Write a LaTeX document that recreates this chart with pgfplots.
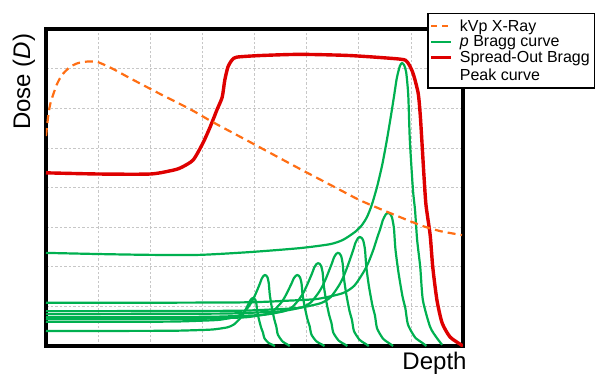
\documentclass[border=0pt]{standalone}
\usepackage{pgfplots}
\pgfplotsset{compat=1.18}
\usepackage{fontspec}
\setmainfont{Liberation Sans}
\definecolor{bgreen}{RGB}{0,176,80}
\definecolor{sred}{RGB}{222,0,0}
\definecolor{xorange}{RGB}{255,110,20}
\begin{document}
\begin{tikzpicture}
\path[use as bounding box] (-46bp,-28bp) rectangle (551bp,346bp);
\begin{axis}[
  at={(0,0)}, anchor=south west,
  scale only axis, width=417bp, height=317bp,
  xmin=0, xmax=8, ymin=0, ymax=8,
  xtick={1,...,7}, ytick={1,...,7},
  xticklabels={,,,,,,,}, yticklabels={,,,,,,,},
  major tick length=0pt,
  grid=major,
  grid style={dash pattern=on 2.5bp off 2bp, color=black!22, line width=0.7bp},
  axis line style={line width=3.5bp},
  xlabel={Depth}, ylabel={Dose (\textit{D})},
  label style={font=\fontsize{24bp}{28bp}\selectfont, inner sep=0pt},
  xlabel style={at={(axis description cs:0.9317,0)}, anchor=north, yshift=-6bp},
  ylabel style={at={(axis description cs:-0.0528,0.833)}, anchor=center, rotate=0},
  legend style={at={(axis description cs:0.9137,1.0505)}, anchor=north west,
    draw=black, line width=1.5bp, fill=white,
    font=\fontsize{16bp}{17.8bp}\selectfont,
    inner xsep=2bp, inner ysep=4.5bp,
    nodes={inner xsep=2.5bp, inner ysep=1.5bp},
    cells={anchor=base west, align=left}},
  legend image code/.code={\path (0bp,0bp) (25bp,0bp); \draw[#1] (0bp,5bp) -- (20bp,5bp);},
  every axis plot/.append style={smooth, tension=0.4},
]
\addlegendimage{xorange, line width=2.2bp, dash pattern=on 6bp off 5bp}
\addlegendimage{bgreen, line width=2.3bp}
\addlegendimage{legend image code/.code={\path (0bp,0bp) (25bp,0bp); \draw[sred, line width=3bp] (0bp,22.8bp) -- (20bp,22.8bp);}}

% small Bragg curves
\addplot[bgreen, line width=2.2bp, forget plot] coordinates {
(0,0.38)(1,0.38)(2.375,0.384)(2.892,0.400)(3.20,0.417)(3.475,0.469)(3.60,0.539)(3.706,0.669)(3.761,0.762)(3.81,0.872)(3.854,0.982)(3.8875,1.068)(3.915,1.144)(3.948,1.197)(3.97,1.21)
(3.992,1.202)(4.014,1.170)(4.036,1.071)(4.0525,0.880)(4.0855,0.669)(4.1295,0.454)(4.1625,0.338)(4.19,0.195)(4.267,0.080)(4.3385,0.034)(4.3935,0)};
\addplot[bgreen, line width=2.2bp, forget plot] coordinates {
(0,0.61)(1,0.61)(2.402,0.616)(2.985,0.639)(3.332,0.662)(3.642,0.737)(3.785,0.836)(3.902,1.021)(3.964,1.154)(4.020,1.310)(4.070,1.466)(4.107,1.587)(4.138,1.697)(4.175,1.772)(4.20,1.79)
(4.225,1.778)(4.250,1.731)(4.274,1.584)(4.293,1.301)(4.330,0.989)(4.380,0.671)(4.417,0.500)(4.448,0.289)(4.535,0.118)(4.615,0.050)(4.677,0)};
\addplot[bgreen, line width=2.2bp, forget plot] coordinates {
(0,0.68)(1,0.68)(2.848,0.685)(3.487,0.707)(3.868,0.729)(4.208,0.800)(4.364,0.892)(4.494,1.066)(4.562,1.191)(4.623,1.338)(4.677,1.485)(4.718,1.599)(4.752,1.703)(4.793,1.773)(4.82,1.79)
(4.847,1.778)(4.874,1.731)(4.902,1.584)(4.922,1.301)(4.963,0.989)(5.017,0.671)(5.058,0.500)(5.092,0.289)(5.187,0.118)(5.276,0.050)(5.344,0)};
\addplot[bgreen, line width=2.2bp, forget plot] coordinates {
(0,0.73)(1,0.73)(3.103,0.737)(3.789,0.763)(4.198,0.790)(4.563,0.877)(4.731,0.990)(4.870,1.203)(4.943,1.356)(5.008,1.537)(5.067,1.716)(5.111,1.856)(5.147,1.983)(5.191,2.070)(5.22,2.09)
(5.249,2.076)(5.278,2.021)(5.308,1.849)(5.330,1.519)(5.373,1.155)(5.432,0.784)(5.476,0.584)(5.512,0.337)(5.614,0.1375)(5.709,0.058)(5.782,0)};
\addplot[bgreen, line width=2.2bp, forget plot] coordinates {
(0,0.81)(1,0.81)(3.367,0.818)(4.091,0.848)(4.522,0.878)(4.907,0.976)(5.084,1.104)(5.230,1.346)(5.307,1.520)(5.377,1.724)(5.438,1.927)(5.485,2.086)(5.523,2.229)(5.569,2.328)(5.60,2.35)
(5.631,2.335)(5.662,2.273)(5.692,2.079)(5.716,1.708)(5.762,1.299)(5.823,0.881)(5.870,0.657)(5.908,0.379)(6.016,0.155)(6.116,0.066)(6.193,0)};
\addplot[bgreen, line width=2.2bp, forget plot] coordinates {
(0,0.88)(1,0.88)(3.613,0.889)(4.393,0.926)(4.858,0.963)(5.273,1.082)(5.464,1.237)(5.622,1.531)(5.705,1.742)(5.779,1.990)(5.846,2.237)(5.896,2.430)(5.937,2.604)(5.987,2.723)(6.02,2.75)
(6.053,2.732)(6.086,2.660)(6.120,2.433)(6.145,1.999)(6.194,1.520)(6.261,1.031)(6.311,0.769)(6.352,0.443)(6.468,0.181)(6.576,0.077)(6.659,0)};
\addplot[bgreen, line width=2.2bp, forget plot] coordinates {
(0,1.09)(1,1.09)(3.776,1.101)(4.678,1.146)(5.216,1.190)(5.696,1.335)(5.917,1.524)(6.099,1.880)(6.195,2.136)(6.282,2.436)(6.358,2.747)(6.416,2.970)(6.464,3.182)(6.522,3.327)(6.56,3.36)
(6.598,3.337)(6.637,3.249)(6.675,2.973)(6.704,2.442)(6.762,1.857)(6.838,1.260)(6.896,0.939)(6.944,0.541)(7.078,0.221)(7.203,0.094)(7.299,0)};
% main Bragg curve
\addplot[bgreen, line width=2.2bp, forget plot] coordinates {
(0,2.35)(1.04,2.32)(2.0,2.30)(2.95,2.30)(3.91,2.37)(4.87,2.47)(5.45,2.57)(5.70,2.68)(5.93,2.88)(6.06,3.05)(6.16,3.26)(6.25,3.56)(6.35,4.01)(6.45,4.57)(6.54,5.20)(6.62,5.83)(6.68,6.33)(6.73,6.76)(6.79,7.07)(6.83,7.14)
(6.87,7.09)(6.91,6.91)(6.95,6.33)(6.98,5.20)(7.04,3.94)(7.08,3.43)(7.12,2.68)(7.18,1.99)(7.23,1.16)(7.37,0.48)(7.50,0.20)(7.60,0.03)};
% SOBP
\addplot[sred, line width=3.4bp, forget plot] coordinates {
(0,4.37)(1.036,4.34)(1.995,4.34)(2.379,4.42)(2.571,4.49)(2.82,4.69)(3.01,5.12)(3.15,5.53)(3.28,5.96)(3.38,6.28)(3.43,6.71)(3.49,7.04)(3.57,7.22)(3.66,7.29)(4.11,7.33)(4.87,7.36)(5.83,7.33)(6.79,7.24)(6.93,7.17)(7.04,6.89)(7.14,6.38)(7.18,5.83)(7.21,5.20)(7.25,4.32)(7.29,3.56)(7.37,2.80)(7.42,1.99)(7.50,1.16)(7.60,0.58)(7.75,0.23)(7.94,0.05)(8.0,0)};
% kVp X-ray
\addplot[xorange, line width=2.2bp, dash pattern=on 8bp off 5bp, forget plot] coordinates {
(0,5.30)(0.04,5.78)(0.077,6.08)(0.134,6.33)(0.211,6.61)(0.307,6.84)(0.46,7.04)(0.614,7.14)(0.806,7.18)(0.978,7.17)(1.13,7.09)(1.29,6.99)(1.61,6.76)(2.19,6.36)(2.76,5.98)(3.20,5.65)(3.91,5.15)(4.87,4.47)(5.64,3.94)(6.02,3.68)(6.50,3.41)(7.18,3.05)(7.56,2.90)(7.98,2.80)};
\legend{kVp X-Ray, \textit{p} Bragg curve, {Spread-Out Bragg\\Peak curve}}
\end{axis}
\end{tikzpicture}
\end{document}
